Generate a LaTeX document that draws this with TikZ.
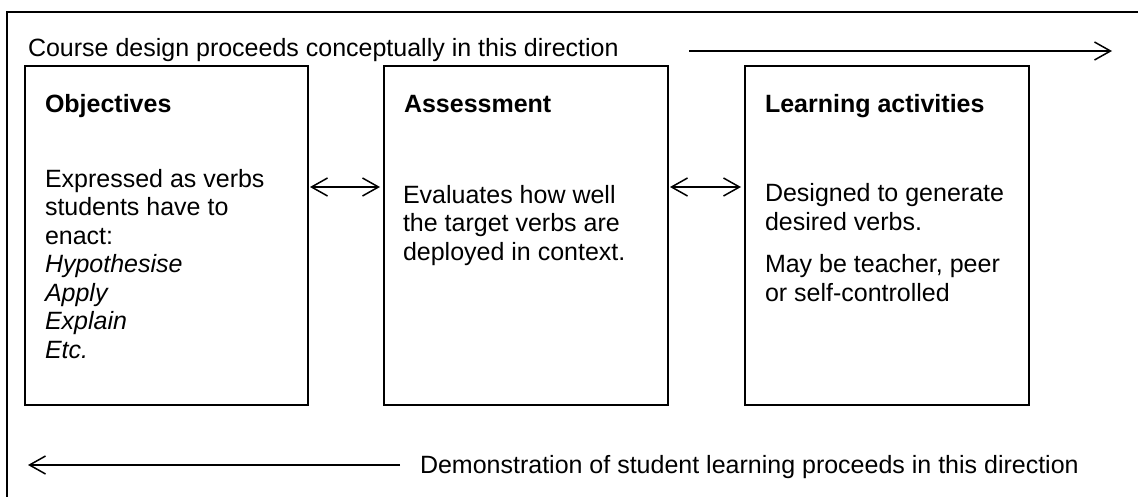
\documentclass[tikz,border=0pt]{standalone}
\usepackage{fontspec}
\setmainfont{Liberation Sans}
\usetikzlibrary{arrows.meta}
\begin{document}
\begin{tikzpicture}[x=1pt,y=-1pt,
  every node/.style={inner sep=0pt,outer sep=0pt},
  frame/.style={line width=2pt},
  box/.style={draw,line width=1.5pt,minimum height=339pt,anchor=center},
  txt/.style={anchor=base west,align=left,font=\fontsize{25}{28.5}\selectfont},
  ttl/.style={anchor=base west,font=\fontsize{25}{28.5}\selectfont\bfseries},
  mybarb/.tip={Straight Barb[length=16pt,width=18pt]},
  conn/.style={line width=1.5pt,mybarb-mybarb},
  flow/.style={line width=1.5pt,-mybarb}]
\useasboundingbox (0,0) rectangle (1138,497);
\clip (0,0) rectangle (1138,497);
% outer frame (extends beyond picture on right and bottom)
\draw[frame] (7,520) -- (7,12) -- (1160,12);
% boxes
\node[box,minimum width=283pt] (obj) at (166.5,235.5) {};
\node[box,minimum width=284pt] (ass) at (526,235.5) {};
\node[box,minimum width=284pt] (act) at (887,235.5) {};
% texts (base anchor = baseline of the last line)
\node[txt] (toptext) at (28,57) {Course design proceeds conceptually in this direction};
\node[txt] (bottext) at (420,473) {Demonstration of student learning proceeds in this direction};
\node[ttl] (objt) at (45,113) {Objectives};
\node[ttl] (asst) at (404,113) {Assessment};
\node[ttl] (actt) at (765,113) {Learning activities};
\node[txt] (objb) at (45,358) {Expressed as verbs\\students have to\\enact:\\\textit{Hypothesise}\\\textit{Apply}\\\textit{Explain}\\\textit{Etc.}};
\node[txt] (assb) at (403,260) {Evaluates how well\\the target verbs are\\deployed in context.};
\node[txt] (actb) at (765,230.5) {Designed to generate\\desired verbs.};
\node[txt] (actc) at (765,301) {May be teacher, peer\\or self-controlled};
% connectors between boxes
\coordinate (lvl) at (0,187);
\draw[conn] ([xshift=2pt]obj.east |- lvl) -- ([xshift=-4pt]ass.west |- lvl);
\draw[conn] ([xshift=2pt]ass.east |- lvl) -- ([xshift=-4pt]act.west |- lvl);
% direction arrows
\coordinate (topstart) at (689,51);
\coordinate (topend) at (1112,51);
\draw[flow] (topstart) -- (topend);
\coordinate (botstart) at (400,465);
\coordinate (botend) at (28,465);
\draw[flow] (botstart) -- (botend);
\end{tikzpicture}
\end{document}
